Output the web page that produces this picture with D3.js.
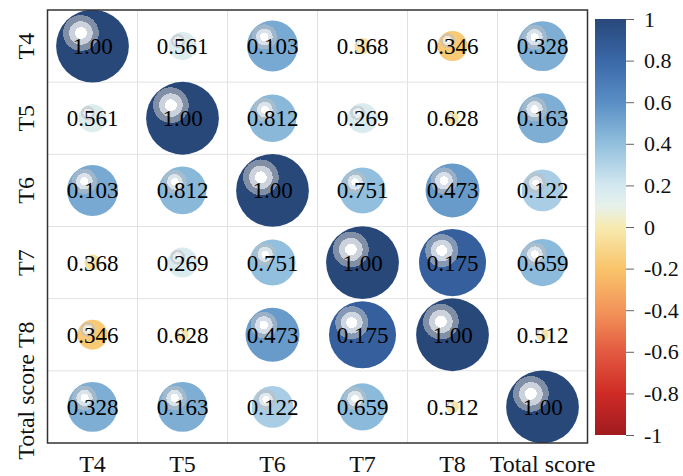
<!DOCTYPE html>
<html><head><meta charset="utf-8">
<script src="https://cdn.jsdelivr.net/npm/d3@7"></script>
<style>
body{margin:0;background:#fff;}
text{font-family:"Liberation Serif","Times New Roman",serif;}
</style></head>
<body><svg id="c" width="683" height="476"></svg>
<script>
const vars = ["T4","T5","T6","T7","T8","Total score"];
// correlation coefficients (circle colour & size)
const corrT4    = [1.00, 0.15, 0.49, -0.05, -0.17, 0.47];
const corrT5    = [0.15, 1.00, 0.43, 0.17, -0.03, 0.47];
const corrT6    = [0.49, 0.43, 1.00, 0.40, 0.55, 0.33];
const corrT7    = [-0.05, 0.17, 0.40, 1.00, 0.85, 0.42];
const corrT8    = [-0.17, -0.03, 0.55, 0.85, 1.00, -0.03];
const corrTotal = [0.47, 0.47, 0.33, 0.42, -0.03, 1.00];
// printed labels
const labT4    = ["1.00","0.561","0.103","0.368","0.346","0.328"];
const labT5    = ["0.561","1.00","0.812","0.269","0.628","0.163"];
const labT6    = ["0.103","0.812","1.00","0.751","0.473","0.122"];
const labT7    = ["0.368","0.269","0.751","1.00","0.175","0.659"];
const labT8    = ["0.346","0.628","0.473","0.175","1.00","0.512"];
const labTotal = ["0.328","0.163","0.122","0.659","0.512","1.00"];
const colorTicks = [1,0.8,0.6,0.4,0.2,0,-0.2,-0.4,-0.6,-0.8,-1];
const cmapVals = [1,0.8,0.6,0.4,0.2,0.1,0,-0.2,-0.4,-0.6,-0.8,-1];
const cmapCols = ["#29487a","#3a68a8","#5a8ec4","#91bfdd","#d3e8f1","#e6f1ea","#f7eab0","#f9c46a","#f3955a","#e35a40","#cf2b26","#a01a1f"];

const corr = [corrT4,corrT5,corrT6,corrT7,corrT8,corrTotal];
const labs = [labT4,labT5,labT6,labT7,labT8,labTotal];

const svg = d3.select("#c");
const L=47.5, R=587.5, T=10, B=443;
const x = d3.scaleBand().domain(vars).range([L,R]);
const y = d3.scaleBand().domain(vars).range([T,B]);
const color = d3.scaleLinear().domain(cmapVals).range(cmapCols).interpolate(d3.interpolateRgb);
const rad = d3.scaleSqrt().domain([0,1]).range([0, y.bandwidth()/2+0.3]);

const cells = [];
vars.forEach((rv,i)=>vars.forEach((cv,j)=>cells.push({row:rv,col:cv,v:corr[i][j],lab:labs[i][j],id:`g${i}_${j}`})));

const defs = svg.append("defs");
defs.append("clipPath").attr("id","plotclip").append("rect").attr("x",L).attr("y",T).attr("width",R-L).attr("height",B-T);
cells.forEach(d=>{
  const base = d3.color(color(d.v));
  const mix = t => d3.interpolateRgb("#ffffff", d3.interpolateRgb("#8a8f99", base)(0.55))(t);
  const g = defs.append("radialGradient").attr("id",d.id)
    .attr("cx",0.34).attr("cy",0.32).attr("fx",0.34).attr("fy",0.32).attr("r",0.245);
  [[0,"#ffffff"],[0.33,"#ffffff"],[0.33,mix(0.3)],[0.66,mix(0.3)],[0.66,mix(0.75)],[1,mix(0.75)],[1,base]].forEach(s=>
    g.append("stop").attr("offset",s[0]).attr("stop-color",s[1]));
});

// grid
const grid = svg.append("g").attr("stroke","#e2e2e2").attr("stroke-width",1);
vars.slice(1).forEach(v=>{
  grid.append("line").attr("x1",x(v)).attr("x2",x(v)).attr("y1",T).attr("y2",B);
  grid.append("line").attr("y1",y(v)).attr("y2",y(v)).attr("x1",L).attr("x2",R);
});

// circles
svg.append("g").attr("clip-path","url(#plotclip)").selectAll("circle").data(cells).join("circle")
  .attr("cx",d=>x(d.col)+x.bandwidth()/2)
  .attr("cy",d=>y(d.row)+y.bandwidth()/2)
  .attr("r",d=>rad(Math.abs(d.v)))
  .attr("fill",d=>`url(#${d.id})`);

// labels
svg.append("g").selectAll("text").data(cells).join("text")
  .attr("x",d=>x(d.col)+x.bandwidth()/2)
  .attr("y",d=>y(d.row)+y.bandwidth()/2+8)
  .attr("text-anchor","middle").attr("font-size",23).attr("fill","#000")
  .text(d=>d.lab);

// frame
svg.append("rect").attr("x",L).attr("y",T).attr("width",R-L).attr("height",B-T)
  .attr("fill","none").attr("stroke","#333").attr("stroke-width",1.5);

// axis labels
svg.append("g").selectAll("text").data(vars).join("text")
  .attr("x",d=>x(d)+x.bandwidth()/2).attr("y",472)
  .attr("text-anchor","middle").attr("font-size",24).attr("fill","#111").text(d=>d);
svg.append("g").selectAll("text").data(vars).join("text")
  .attr("transform",d=>`translate(34,${y(d)+y.bandwidth()/2}) rotate(-90)`)
  .attr("text-anchor","middle").attr("font-size",24).attr("fill","#111").text(d=>d);

// colorbar
const cbX=595, cbW=31, cbT=19, cbB=435;
const cy = d3.scaleLinear().domain([-1,1]).range([cbB,cbT]);
const lg = defs.append("linearGradient").attr("id","cbg").attr("x1",0).attr("y1",1).attr("x2",0).attr("y2",0);
d3.range(0,1.0001,0.05).forEach(t=>lg.append("stop").attr("offset",t).attr("stop-color",color(-1+2*t)));
svg.append("rect").attr("x",cbX).attr("y",cbT).attr("width",cbW).attr("height",cbB-cbT).attr("fill","url(#cbg)");
const ax = svg.append("g").attr("transform",`translate(${cbX+cbW},0)`)
  .call(d3.axisRight(cy).tickValues(colorTicks).tickSize(8).tickSizeOuter(0).tickPadding(10)
    .tickFormat(d=>d===0?"0":String(d)));
ax.select(".domain").remove();
ax.selectAll("line").attr("stroke","#666");
ax.selectAll("text").attr("font-size",22).attr("fill","#111").attr("font-family","Liberation Serif");
</script></body></html>
